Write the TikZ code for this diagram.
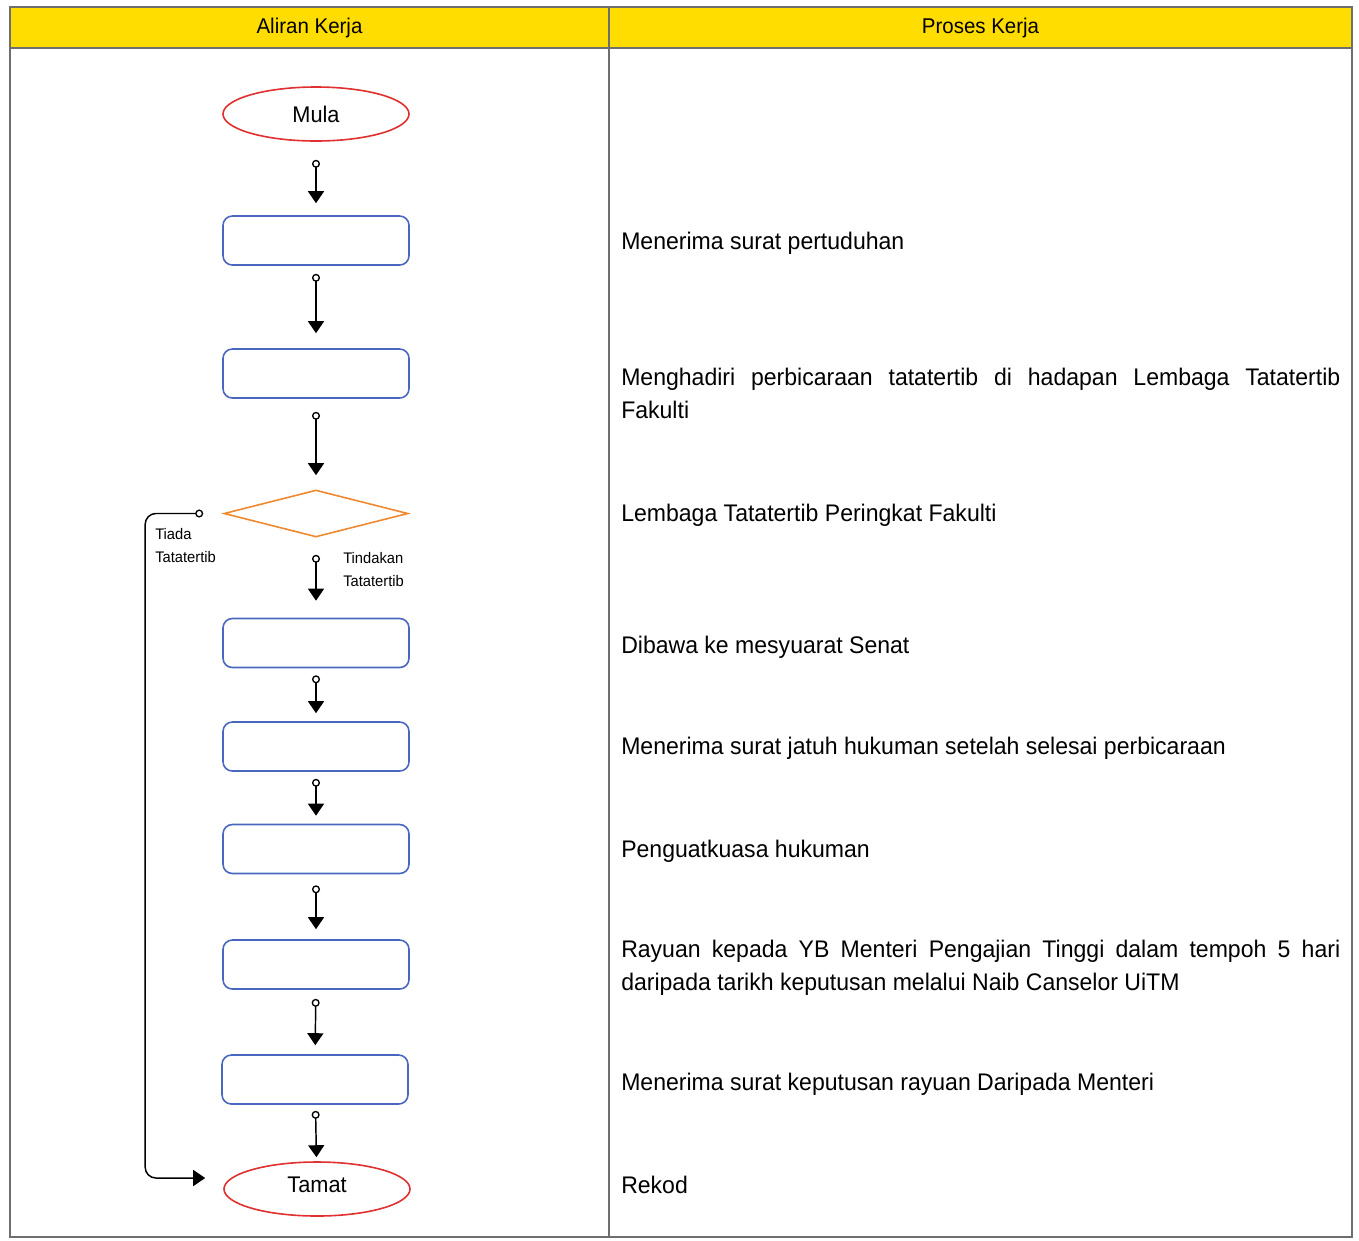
\documentclass[tikz,border=0pt]{standalone}
\usepackage{fontspec}
\setmainfont{Liberation Sans}[FakeStretch=0.96]
\usetikzlibrary{shapes.geometric,arrows.meta}
\definecolor{hdr}{HTML}{FFDD00}
\definecolor{frame}{HTML}{6E6E6E}
\definecolor{redl}{HTML}{E03030}
\definecolor{bluel}{HTML}{4A67C0}
\definecolor{orl}{HTML}{F08A30}
\newcommand\myprocfont{\fontsize{18}{24.75}\selectfont\hyphenpenalty10000\exhyphenpenalty10000\relax}
\tikzset{
  term/.style={ellipse, draw=redl, line width=1.2pt, minimum width=139.5pt, minimum height=40.5pt, inner sep=0pt, font=\fontsize{17}{20}\selectfont},
  procbox/.style={rectangle, rounded corners=7pt, draw=bluel, line width=1.2pt, minimum width=139.5pt, minimum height=36.75pt, inner sep=0pt},
  decide/.style={diamond, draw=orl, line width=1.2pt, minimum width=138pt, minimum height=35.25pt, inner sep=0pt},
  conn/.style={draw=black, line width=1.1pt, {Circle[open,length=6pt,width=6pt,fill=white,line width=1pt]}-{Triangle[length=9pt,width=12pt]}},
  proc/.style={anchor=base west, inner sep=0pt, text width=539.25pt, align=justify, font=\myprocfont},
  hdrtext/.style={font=\fontsize{16}{20}\selectfont},
  small/.style={anchor=north west, inner sep=0pt, align=left, font=\fontsize{11.5}{17.5}\selectfont}
}
\begin{document}
\begin{tikzpicture}[x=0.75pt,y=-0.75pt]
\useasboundingbox (0,0) rectangle (1359,1240);
\fill[white] (0,0) rectangle (1359,1240);
% header
\fill[hdr] (10,7) rectangle (1352,48);
\draw[frame, line width=1.6pt] (10,7) rectangle (1352,1237);
\draw[frame, line width=1.6pt] (10,48) -- (1352,48);
\draw[frame, line width=1.2pt] (609,7) -- (609,1237);
\node[hdrtext] (h1) at (309.5,28) {Aliran Kerja};
\node[hdrtext] (h2) at (980.5,28) {Proses Kerja};
% flow
\node[term] (mula) at (316,114) {Mula};
\node[procbox] (b1) at (316,240.5) {};
\node[procbox] (b2) at (316,373.5) {};
\node[decide] (dia) at (316,513.5) {};
\node[procbox] (b3) at (316,643) {};
\node[procbox] (b4) at (316,746.5) {};
\node[procbox] (b5) at (316,849) {};
\node[procbox] (b6) at (316,964.5) {};
\node[procbox] (b7) at (315,1079.5) {};
\node[term] (tamat) at (317,1189) {};
\node[font=\fontsize{17}{20}\selectfont] (tamattext) at (317,1185) {Tamat};
\draw[conn, shorten <=13.5pt, shorten >=9pt] (mula) -- (b1);
\draw[conn, shorten <=6pt, shorten >=11.25pt] (b1) -- (b2);
\draw[conn, shorten <=9.75pt, shorten >=10.5pt] (b2) -- (dia);
\draw[conn, shorten <=12.75pt, shorten >=12.75pt] (dia) -- (b3);
\draw[conn, shorten <=5.25pt, shorten >=6pt] (b3) -- (b4);
\draw[conn, shorten <=5.25pt, shorten >=6pt] (b4) -- (b5);
\draw[conn, shorten <=8.25pt, shorten >=7.5pt] (b5) -- (b6);
\draw[conn, shorten <=6.75pt, shorten >=6.75pt] (b6) -- (b7);
\draw[conn, shorten <=4.5pt, shorten >=3pt] (b7) -- (tamat);
\draw[conn, rounded corners=8pt, shorten <=15pt, shorten >=13.5pt] (dia.west) -- ++(-78,0) |- ([yshift=8.25pt]tamat.west);
\node[small] (tiada) at (155,528) {Tiada\\Tatatertib};
\node[small] (tindakan) at (343,552) {Tindakan\\Tatatertib};
% process texts
\node[proc] (p1) at (621,249) {Menerima surat pertuduhan};
\node[proc] (p2) at (621,385) {Menghadiri perbicaraan tatatertib di hadapan Lembaga Tatatertib Fakulti};
\node[proc] (p3) at (621,521) {Lembaga Tatatertib Peringkat Fakulti};
\node[proc] (p4) at (621,653) {Dibawa ke mesyuarat Senat};
\node[proc] (p5) at (621,754) {Menerima surat jatuh hukuman setelah selesai perbicaraan};
\node[proc] (p6) at (621,857) {Penguatkuasa hukuman};
\node[proc] (p7) at (621,957) {Rayuan kepada YB Menteri Pengajian Tinggi dalam tempoh 5 hari daripada tarikh keputusan melalui Naib Canselor UiTM};
\node[proc] (p8) at (621,1090) {Menerima surat keputusan rayuan Daripada Menteri};
\node[proc] (p9) at (621,1193) {Rekod};
\end{tikzpicture}
\end{document}
